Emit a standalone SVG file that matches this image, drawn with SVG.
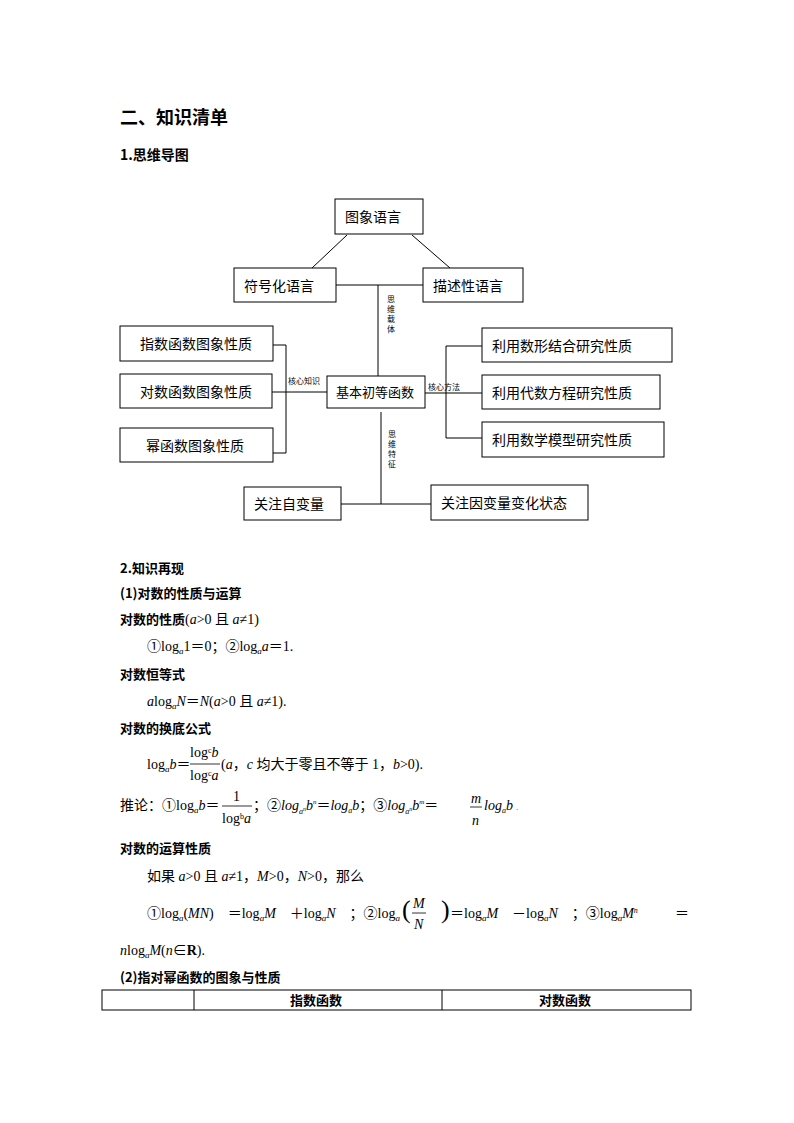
<svg xmlns="http://www.w3.org/2000/svg" width="794" height="1123" viewBox="0 0 794 1123">
<style>
text{font-family:"Liberation Serif","Noto Sans CJK SC",serif;fill:#000}
.n rect{fill:#fff;stroke:#000;stroke-width:1}
.n text{font-family:"Noto Sans CJK SC",sans-serif;font-size:14px}
.lb{font-family:"Noto Sans CJK SC",sans-serif;font-size:8px}
.c line{stroke:#000;stroke-width:1}
.h{font-family:"Noto Sans CJK SC",sans-serif;font-weight:bold}
.t{font-size:14px}
.i{font-style:italic}
</style>
<rect width="794" height="1123" fill="#fff"/>
<text class="h" x="120" y="124" font-size="18">二、知识清单</text>
<text class="h" x="120" y="160" font-size="14">1.思维导图</text>

<g class="c">
<line x1="347" y1="235" x2="312" y2="268"/>
<line x1="412" y1="235" x2="450" y2="268"/>
<line x1="336" y1="285" x2="423" y2="285"/>
<line x1="378" y1="285" x2="378" y2="376"/>
<line x1="273" y1="345" x2="286" y2="345"/>
<line x1="272" y1="392" x2="327" y2="392"/>
<line x1="273" y1="453" x2="286" y2="453"/>
<line x1="286" y1="345" x2="286" y2="453"/>
<line x1="425" y1="393" x2="482" y2="393"/>
<line x1="446" y1="346" x2="446" y2="438"/>
<line x1="446" y1="346" x2="482" y2="346"/>
<line x1="446" y1="438" x2="482" y2="438"/>
<line x1="381" y1="412" x2="381" y2="504"/>
<line x1="341" y1="504" x2="431" y2="504"/>
</g>
<text class="lb"><tspan x="387" y="302">思</tspan><tspan x="387" y="312">维</tspan><tspan x="387" y="322">载</tspan><tspan x="387" y="332">体</tspan></text>
<text class="lb" x="288" y="384">核心知识</text>
<text class="lb" x="428" y="390">核心方法</text>
<text class="lb"><tspan x="388" y="437">思</tspan><tspan x="388" y="447">维</tspan><tspan x="388" y="457">特</tspan><tspan x="388" y="467">征</tspan></text>

<g id="n1" class="n"><rect x="335" y="199" width="88" height="35"/><text x="345" y="222">图象语言</text></g>
<g id="n2" class="n"><rect x="234" y="268" width="102" height="34"/><text x="244" y="291">符号化语言</text></g>
<g id="n3" class="n"><rect x="423" y="268" width="100" height="34"/><text x="433" y="291">描述性语言</text></g>
<g id="n4" class="n"><rect x="120" y="326" width="153" height="35"/><text x="140" y="349">指数函数图象性质</text></g>
<g id="n5" class="n"><rect x="120" y="374" width="152" height="34"/><text x="140" y="397">对数函数图象性质</text></g>
<g id="n6" class="n"><rect x="120" y="428" width="153" height="34"/><text x="146" y="451">幂函数图象性质</text></g>
<g id="n7" class="n"><rect x="327" y="376" width="98" height="32"/><text x="336" y="397" style="font-size:13px">基本初等函数</text></g>
<g id="n8" class="n"><rect x="482" y="328" width="190" height="34"/><text x="492" y="351">利用数形结合研究性质</text></g>
<g id="n9" class="n"><rect x="482" y="375" width="178" height="34"/><text x="492" y="398">利用代数方程研究性质</text></g>
<g id="n10" class="n"><rect x="482" y="422" width="182" height="35"/><text x="492" y="445">利用数学模型研究性质</text></g>
<g id="n11" class="n"><rect x="244" y="487" width="97" height="33"/><text x="254" y="509">关注自变量</text></g>
<g id="n12" class="n"><rect x="431" y="485" width="157" height="35"/><text x="441" y="508">关注因变量变化状态</text></g>

<g class="t">
<text class="h" x="120" y="573" font-size="13">2.知识再现</text>
<text class="h" x="120" y="598" font-size="13">(1)对数的性质与运算</text>
<text x="120" y="624"><tspan class="h" font-size="13">对数的性质</tspan>(<tspan class="i">a</tspan>&gt;0 且 <tspan class="i">a</tspan>≠1)</text>
<text x="147" y="651">①log<tspan class="i" font-size="9" dy="3">a</tspan><tspan dy="-3">1＝0；②log</tspan><tspan class="i" font-size="9" dy="3">a</tspan><tspan class="i" dy="-3">a</tspan>＝1.</text>
<text class="h" x="120" y="679" font-size="13">对数恒等式</text>
<text x="147" y="706"><tspan class="i">a</tspan>log<tspan class="i" font-size="9" dy="3">a</tspan><tspan class="i" dy="-3">N</tspan>＝<tspan class="i">N</tspan>(<tspan class="i">a</tspan>&gt;0 且 <tspan class="i">a</tspan>≠1).</text>
<text class="h" x="120" y="733" font-size="13">对数的换底公式</text>
<text x="147" y="769">log<tspan class="i" font-size="9" dy="3">a</tspan><tspan class="i" dy="-3">b</tspan>＝</text>
<text x="190" y="757">log<tspan font-size="8" dy="-4">c</tspan><tspan class="i" dy="4">b</tspan></text>
<line x1="190" y1="764" x2="220" y2="764" stroke="#000" stroke-width="0.8"/>
<text x="190" y="780">log<tspan font-size="8" dy="-4">c</tspan><tspan class="i" dy="4">a</tspan></text>
<text x="221" y="769">(<tspan class="i">a</tspan>，<tspan class="i">c</tspan> 均大于零且不等于 1，<tspan class="i">b</tspan>&gt;0).</text>
<text x="120" y="810">推论：①log<tspan class="i" font-size="9" dy="3">a</tspan><tspan class="i" dy="-3">b</tspan>＝</text>
<text x="233" y="801">1</text>
<line x1="222" y1="806" x2="252" y2="806" stroke="#000" stroke-width="0.8"/>
<text x="222" y="823">log<tspan font-size="8" dy="-4">b</tspan><tspan class="i" dy="4">a</tspan></text>
<text x="253" y="810">；②<tspan class="i">log</tspan><tspan class="i" font-size="8" dy="4">a</tspan><tspan class="i" font-size="6" dy="-3">n</tspan><tspan class="i" dy="-1">b</tspan><tspan class="i" font-size="7" dy="-6">n</tspan><tspan dy="6">＝</tspan><tspan class="i">log</tspan><tspan class="i" font-size="8" dy="3">a</tspan><tspan class="i" dy="-3">b</tspan>；③<tspan class="i">log</tspan><tspan class="i" font-size="8" dy="4">a</tspan><tspan class="i" font-size="6" dy="-3">n</tspan><tspan class="i" dy="-1">b</tspan><tspan class="i" font-size="7" dy="-6">m</tspan><tspan dy="6">＝</tspan></text>
<text class="i" x="471" y="803">m</text>
<line x1="470" y1="807" x2="482" y2="807" stroke="#000" stroke-width="0.8"/>
<text class="i" x="472" y="825">n</text>
<text x="484" y="810"><tspan class="i">log</tspan><tspan class="i" font-size="8" dy="3">a</tspan><tspan class="i" dy="-3">b</tspan> <tspan font-size="6">.</tspan></text>
<text class="h" x="120" y="853" font-size="13">对数的运算性质</text>
<text x="147" y="881">如果 <tspan class="i">a</tspan>&gt;0 且 <tspan class="i">a</tspan>≠1，<tspan class="i">M</tspan>&gt;0，<tspan class="i">N</tspan>&gt;0，那么</text>
<text x="147" y="918">①log<tspan class="i" font-size="9" dy="3">a</tspan><tspan dy="-3">(</tspan><tspan class="i">MN</tspan>)　＝log<tspan class="i" font-size="9" dy="3">a</tspan><tspan class="i" dy="-3">M</tspan>　＋log<tspan class="i" font-size="9" dy="3">a</tspan><tspan class="i" dy="-3">N</tspan>　；②log<tspan class="i" font-size="9" dy="3">a</tspan></text>
<text x="402" y="918" font-size="26" font-weight="100" transform="scale(1,1)">(</text>
<text class="i" x="413" y="908">M</text>
<line x1="412" y1="913" x2="426" y2="913" stroke="#000" stroke-width="0.8"/>
<text class="i" x="414" y="929">N</text>
<text x="441" y="918" font-size="26">)</text>
<text x="450" y="918">＝log<tspan class="i" font-size="9" dy="3">a</tspan><tspan class="i" dy="-3">M</tspan>　－log<tspan class="i" font-size="9" dy="3">a</tspan><tspan class="i" dy="-3">N</tspan>　；③log<tspan class="i" font-size="9" dy="3">a</tspan><tspan class="i" dy="-3">M</tspan><tspan class="i" font-size="8" dy="-5">n</tspan></text>
<text x="675" y="918">＝</text>
<text x="120" y="955"><tspan class="i">n</tspan>log<tspan class="i" font-size="9" dy="3">a</tspan><tspan class="i" dy="-3">M</tspan>(<tspan class="i">n</tspan>∈<tspan font-weight="bold">R</tspan>).</text>
<text class="h" x="120" y="982" font-size="13">(2)指对幂函数的图象与性质</text>
</g>
<g id="table" fill="none" stroke="#000" stroke-width="1">
<rect x="102" y="990" width="589" height="20"/>
<line x1="194" y1="990" x2="194" y2="1010"/>
<line x1="442" y1="990" x2="442" y2="1010"/>
</g>
<text class="h" x="290" y="1005" font-size="13">指数函数</text>
<text class="h" x="539" y="1005" font-size="13">对数函数</text>
</svg>
